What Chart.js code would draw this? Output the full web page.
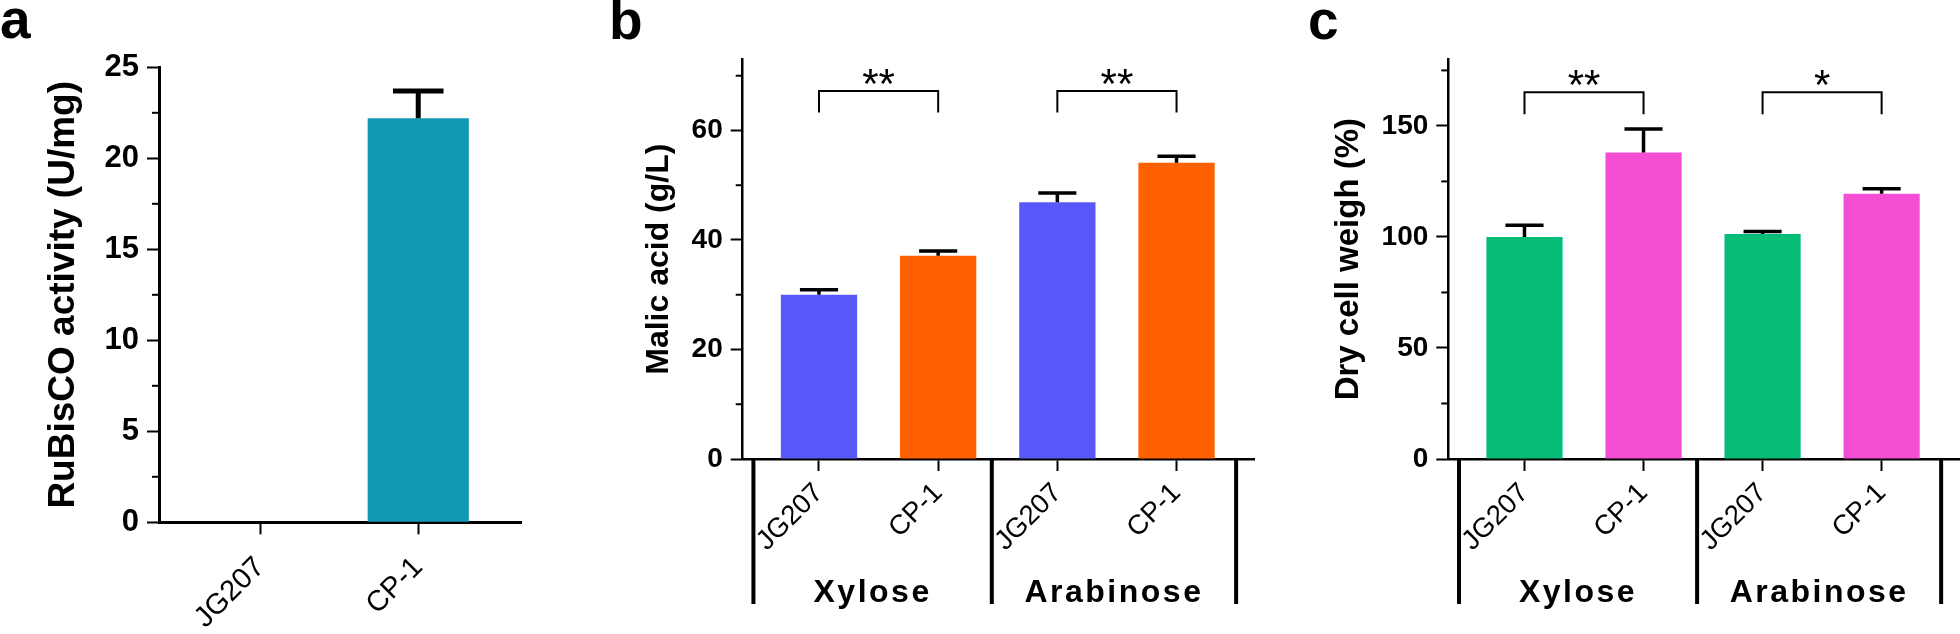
<!DOCTYPE html>
<html>
<head>
<meta charset="utf-8">
<script src="https://cdn.jsdelivr.net/npm/chart.js@4.4.0/dist/chart.umd.min.js"></script>
<style>
html, body { margin: 0; padding: 0; background: #fff; }
body { width: 1960px; height: 634px; position: relative; overflow: hidden; font-family: 'Liberation Sans', Arial, sans-serif; }
canvas { position: absolute; top: 0; }
.letter { position: absolute; font-weight: bold; font-size: 55px; line-height: 1; color: #000; }
</style>
</head>
<body>
<div class="letter" style="left:0px;top:-8px">a</div>
<div class="letter" style="left:609px;top:-7px">b</div>
<div class="letter" style="left:1308px;top:-7px">c</div>
<canvas id="panelA" width="560" height="634" style="left:0px"></canvas>
<canvas id="panelB" width="690" height="634" style="left:600px"></canvas>
<canvas id="panelC" width="660" height="634" style="left:1300px"></canvas>
<script>
// Werte
var aLabels = ['JG207', 'CP-1'];
var aValues = [0, 22.2];
var aErrors = [0, 1.5];
var aTicks = [0, 5, 10, 15, 20, 25];
var aMinor = [2.5, 7.5, 12.5, 17.5, 22.5];

var strains = ['JG207', 'CP-1', 'JG207', 'CP-1'];
var groups = ['Xylose', 'Arabinose'];
var groupSizes = [2, 2];

var malicValues = [30.0, 37.1, 46.9, 54.1];
var malicErrors = [0.9, 0.9, 1.7, 1.2];
var malicTicks = [0, 20, 40, 60];
var malicMinor = [10, 30, 50, 70];
var malicSig = ['**', '**'];

var dcwValues = [100.0, 138.0, 101.3, 119.4];
var dcwErrors = [5.3, 10.6, 1.1, 2.3];
var dcwTicks = [0, 50, 100, 150];
var dcwMinor = [25, 75, 125, 175];
var dcwSig = ['**', '*'];

var sigPairs = [[0, 1], [2, 3]];

var FONT = "'Liberation Sans', Arial, sans-serif";

// Fehlerbalken, kleine Ticks, Signifikanz-Klammern, Gruppen
var panelExtras = {
    id: 'panelExtras',
    afterDatasetsDraw: function(chart, args, opts) {
        var ctx = chart.ctx;
        var xs = chart.scales.x, ys = chart.scales.y;
        var area = chart.chartArea;
        var bars = chart.getDatasetMeta(0).data;
        ctx.save();
        ctx.strokeStyle = '#000';
        ctx.fillStyle = '#000';

        ctx.lineWidth = opts.errWidth;
        opts.values.forEach(function(v, i) {
            var e = opts.errors[i];
            if (!e) return;
            var px = xs.getPixelForValue(i);
            var top = ys.getPixelForValue(v + e);
            var base = ys.getPixelForValue(v);
            var half = bars[i].width * 0.25;
            ctx.beginPath();
            ctx.moveTo(px, base);
            ctx.lineTo(px, top);
            ctx.moveTo(px - half, top);
            ctx.lineTo(px + half, top);
            ctx.stroke();
        });

        ctx.lineWidth = 2;
        opts.minor.forEach(function(v) {
            var py = ys.getPixelForValue(v);
            ctx.beginPath();
            ctx.moveTo(area.left - 7, py);
            ctx.lineTo(area.left, py);
            ctx.stroke();
        });

        if (opts.sig) {
            ctx.lineWidth = 2;
            ctx.textAlign = 'center';
            ctx.textBaseline = 'alphabetic';
            ctx.font = '42px ' + FONT;
            sigPairs.forEach(function(p, k) {
                var x1 = xs.getPixelForValue(p[0]);
                var x2 = xs.getPixelForValue(p[1]);
                var yTop = ys.getPixelForValue(opts.sigLevel);
                var yLeg = ys.getPixelForValue(opts.sigLeg);
                ctx.beginPath();
                ctx.moveTo(x1, yLeg);
                ctx.lineTo(x1, yTop);
                ctx.lineTo(x2, yTop);
                ctx.lineTo(x2, yLeg);
                ctx.stroke();
                ctx.fillText(opts.sig[k], (x1 + x2) / 2, yTop + 7);
            });
        }

        if (opts.groups) {
            var edges = [-0.55];
            var idx = 0;
            groupSizes.forEach(function(n, k) {
                idx += n;
                edges.push(idx - 1 + (k === groupSizes.length - 1 ? 0.5 : 0.45));
            });
            ctx.lineWidth = 4;
            edges.forEach(function(e) {
                var px = xs.getPixelForValue(e);
                ctx.beginPath();
                ctx.moveTo(px, area.bottom + 1);
                ctx.lineTo(px, area.bottom + 145);
                ctx.stroke();
            });
            ctx.font = 'bold 32px ' + FONT;
            ctx.letterSpacing = '2.5px';
            ctx.textAlign = 'center';
            ctx.textBaseline = 'alphabetic';
            opts.groups.forEach(function(name, k) {
                var cx = (xs.getPixelForValue(edges[k]) + xs.getPixelForValue(edges[k + 1])) / 2;
                ctx.fillText(name, cx, area.bottom + 143);
            });
        }
        ctx.restore();
    }
};

function makePanel(id, labels, values, errors, colors, o) {
    return new Chart(document.getElementById(id), {
        type: 'bar',
        data: {
            datasets: [{
                data: values.map(function(v, i) { return { x: i, y: v }; }),
                backgroundColor: colors,
                borderWidth: 0,
                barPercentage: 0.64,
                categoryPercentage: 1
            }]
        },
        options: {
            responsive: false,
            animation: false,
            devicePixelRatio: 1,
            layout: { padding: { left: 0, top: o.top, right: o.right, bottom: 0 } },
            plugins: {
                legend: { display: false },
                tooltip: { enabled: false },
                panelExtras: {
                    values: values, errors: errors, minor: o.minor, errWidth: o.errWidth,
                    sig: o.sig, sigLevel: o.sigLevel, sigLeg: o.sigLeg, groups: o.groups
                }
            },
            scales: {
                x: {
                    type: 'linear',
                    offset: false,
                    bounds: 'data',
                    min: -0.64,
                    max: labels.length - 1 + 0.65,
                    afterBuildTicks: function(s) {
                        s.ticks = labels.map(function(l, i) { return { value: i }; });
                    },
                    afterFit: function(s) { s.height = o.xHeight; },
                    grid: { offset: false, drawOnChartArea: false, drawTicks: true, tickLength: 12, tickWidth: 2, tickColor: '#000' },
                    border: { display: true, color: '#000', width: o.axisWidth },
                    ticks: {
                        autoSkip: false, minRotation: 45, maxRotation: 45, padding: o.xPad, color: '#000',
                        font: { family: FONT, size: o.xFont },
                        callback: function(v) { return labels[v]; }
                    }
                },
                y: {
                    min: 0,
                    max: o.yMax,
                    afterBuildTicks: function(s) {
                        s.ticks = o.yTicks.map(function(v) { return { value: v }; });
                    },
                    afterFit: function(s) { s.width = o.yWidth; },
                    grid: { drawOnChartArea: false, drawTicks: true, tickLength: 12, tickWidth: 2, tickColor: '#000' },
                    border: { display: true, color: '#000', width: o.axisWidth },
                    ticks: { padding: 8, color: '#000', font: { family: FONT, size: o.yFont, weight: 'bold' } },
                    title: {
                        display: true, text: o.title, color: '#000',
                        font: { family: FONT, size: o.titleFont, weight: 'bold' },
                        padding: { top: o.titlePad, bottom: 0 }
                    }
                }
            }
        },
        plugins: [panelExtras]
    });
}

makePanel('panelA', aLabels, aValues, aErrors, ['#1198b4', '#1198b4'], {
    top: 67.3, right: 39, xHeight: 111.7, yWidth: 159, yMax: 25, yTicks: aTicks, minor: aMinor,
    yFont: 31, xFont: 29, xPad: 16, axisWidth: 3, errWidth: 5,
    title: 'RuBisCO activity (U/mg)', titleFont: 37, titlePad: 42
});

makePanel('panelB', strains, malicValues, malicErrors, ['#5858f9', '#ff6100', '#5858f9', '#ff6100'], {
    top: 59.3, right: 36, xHeight: 175, yWidth: 142.7, yMax: 73, yTicks: malicTicks, minor: malicMinor,
    yFont: 28, xFont: 27.5, xPad: 6, axisWidth: 2.5, errWidth: 3.5,
    title: 'Malic acid (g/L)', titleFont: 32, titlePad: 39.7,
    sig: malicSig, sigLevel: 67.2, sigLeg: 63.3, groups: groups
});

makePanel('panelC', strains, dcwValues, dcwErrors, ['#06bd78', '#f44fd4', '#06bd78', '#f44fd4'], {
    top: 59.3, right: 1, xHeight: 175, yWidth: 148.3, yMax: 180, yTicks: dcwTicks, minor: dcwMinor,
    yFont: 28, xFont: 27.5, xPad: 6, axisWidth: 2.5, errWidth: 3.5,
    title: 'Dry cell weigh (%)', titleFont: 33, titlePad: 28.8,
    sig: dcwSig, sigLevel: 165.2, sigLeg: 155.2, groups: groups
});
</script>
</body>
</html>
